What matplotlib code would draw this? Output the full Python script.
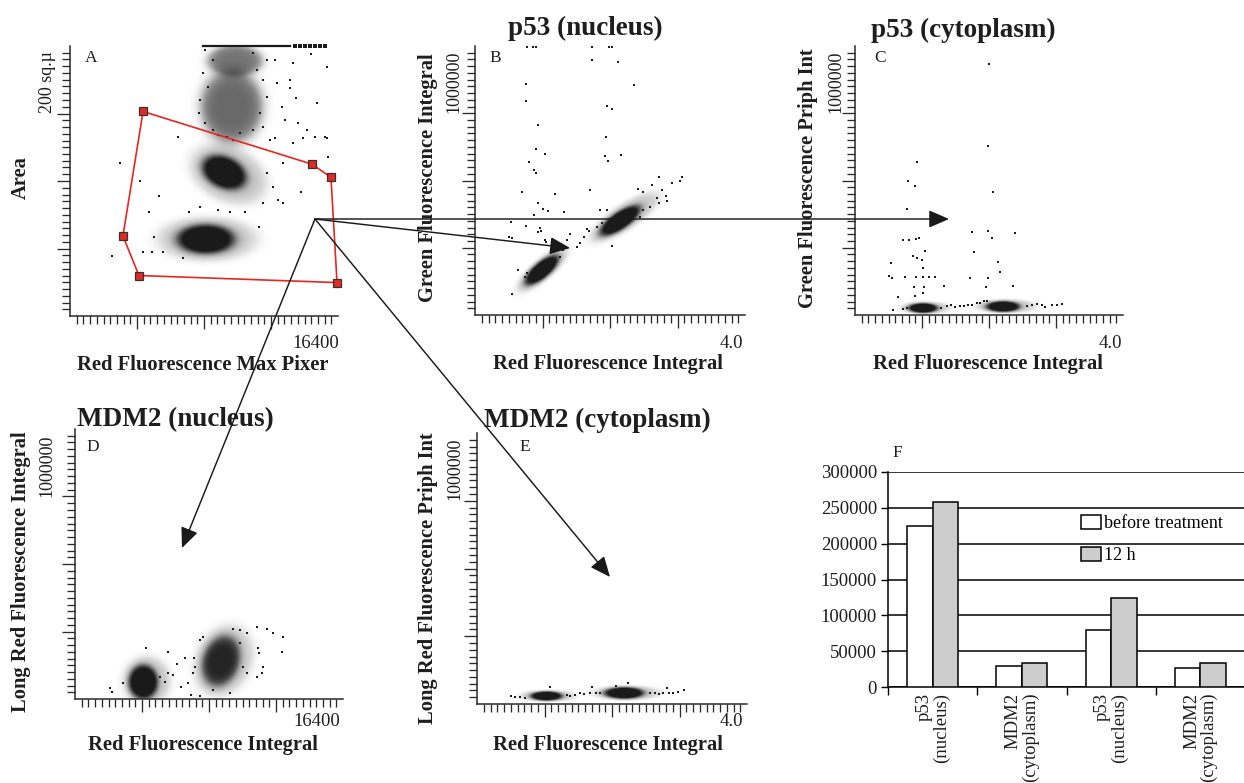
import numpy as np
import matplotlib
matplotlib.use('Agg')
import matplotlib.pyplot as plt
from matplotlib.patches import Circle, FancyArrowPatch
from matplotlib.transforms import Affine2D
from matplotlib.ticker import FixedLocator, NullFormatter

plt.rcParams['font.family'] = ['Liberation Serif', 'DejaVu Serif']

# ======================= DATA =======================
# ---- Panel A : Area vs Red Fluorescence Max Pixel ----
a_xmax = 16400
a_ymax = 266.67          # "200 sq.µ" sits at 3/4 of the axis
a_pts_x = [6630, 3060, 4280, 5450, 4850, 5140, 2550, 4450, 5020, 5670, 6930, 7300, 7960,
           9080, 9790, 10710, 11590, 11830, 12750, 13050, 14140, 15810, 15710, 14990, 13670,
           13160, 12550, 13830, 15100, 14280, 14750, 15750, 13670, 13460, 12550, 13050, 12040, 12440,
           8260, 8770, 8160, 8470, 7960, 7920, 8260, 8770, 9590, 10400, 11220, 11830, 11630,
           12040, 11830, 11430, 12040, 11220, 12650, 12960, 12240, 10000, 9080, 13460, 13970,
           14480, 15610]
a_pts_y = [177.1, 150.9, 133.7, 118.9, 102.5, 78.3, 59.6, 62.9, 62.9, 62.9, 57.0, 103.0, 108.0,
           104.7, 103.0, 103.0, 88.2, 111.3, 114.6, 111.3, 122.2, 156.8, 175.6, 177.1, 170.6,
           193.6, 175.6, 215.1, 210.7, 175.6, 258.9, 245.7, 249.7, 233.2, 252.9, 150.9, 141.0, 127.8,
           262.8, 252.9, 239.8, 226.6, 213.4, 200.3, 190.4, 183.8, 177.1, 180.5, 183.8, 187.0, 200.3,
           216.7, 233.2, 243.0, 252.9, 259.5, 229.9, 206.8, 173.9, 173.9, 178.8, 224.9, 190.4,
           183.8, 177.1]
a_top_x = [8140, 13460]                        # saturated events on the upper edge
a_top_dots = [13770, 14080, 14380, 14690, 15000, 15300, 15610]
# cell populations (cores, then sparse halos)
a_clu_x = [8310, 9440, 9900, 10100, 8400, 9700]
a_clu_y = [75.9, 141.8, 207.0, 252.0, 76.0, 140.0]
a_clu_sx = [1040, 800, 1100, 980, 1750, 1350]
a_clu_sy = [8.5, 10.0, 21.0, 9.0, 12.5, 17.0]
a_clu_rho = [0.0, -0.3, 0.0, 0.0, 0.0, -0.3]
a_clu_dens = [1.0, 1.0, 0.6, 0.55, 0.22, 0.22]
a_gate_x = [4470, 14800, 15970, 16340, 4220, 3240]
a_gate_y = [202, 150, 137, 33, 40, 79]

# ---- Panel B : p53 (nucleus) ----
bce_xmax = 4.0
bcde_ymax = 1333333      # "1000000" sits at 3/4 of the axis
b_pts_x = [0.77, 0.86, 0.91, 1.73, 1.98, 2.03, 1.73, 2.12, 0.76, 2.36, 0.76, 1.96, 2.03, 0.94,
           1.94, 0.90, 1.04, 1.93, 2.16, 1.97, 0.80, 0.87, 0.90, 2.72, 3.06, 3.04, 2.62, 2.92,
           0.70, 1.70, 1.18, 2.42, 2.49, 2.77, 2.83, 2.69, 2.84, 2.72, 0.94, 1.01, 1.08, 1.32,
           1.85, 0.88, 0.54, 0.75, 0.96, 0.98, 0.94, 0.51, 0.55, 1.04, 1.05, 1.41, 1.36, 1.66,
           1.69, 1.61, 1.56, 1.51, 2.03, 0.64, 0.74, 0.55,
           1.80, 1.88, 1.95, 2.49, 2.59, 2.44, 1.31, 1.26, 0.77]
b_pts_y = [1330000, 1330000, 1330000, 1330000, 1330000, 1330000, 1266000, 1254000, 1144000,
           1139000, 1061000, 1036000, 1023000, 944000, 883000, 825000, 800000, 789000, 795000,
           764000, 756000, 718000, 705000, 682000, 685000, 665000, 644000, 655000, 609000,
           622000, 598000, 627000, 611000, 619000, 589000, 578000, 566000, 553000, 556000,
           523000, 515000, 510000, 520000, 495000, 462000, 441000, 429000, 418000, 411000,
           388000, 380000, 371000, 363000, 401000, 371000, 424000, 414000, 388000, 355000,
           335000, 342000, 223000, 190000, 105000,
           437000, 454000, 520000, 520000, 536000, 487000, 322000, 289000, 206000]
b_clu_x = [0.99, 2.15, 1.00, 2.22]
b_clu_y = [222750, 468000, 225000, 485000]
b_clu_sx = [0.148, 0.178, 0.22, 0.30]
b_clu_sy = [43600, 44550, 65000, 72000]
b_clu_rho = [0.75, 0.75, 0.8, 0.8]
b_clu_dens = [1.0, 1.0, 0.2, 0.2]

# ---- Panel C : p53 (cytoplasm) ----
c_pts_x = [2.00, 1.98, 0.93, 0.79, 0.89, 2.06, 0.77, 1.74, 1.98, 2.04, 2.39, 0.71, 0.81, 0.91,
           0.96, 1.05, 1.77, 0.87, 0.92, 1.00, 2.14, 0.54, 1.01, 2.17, 0.51, 0.55, 0.74, 0.91,
           1.01, 1.10, 1.19, 1.72, 1.99, 1.33, 0.88, 1.03, 1.95, 2.36, 0.64, 0.90, 1.02, 0.56,
           1.37, 1.44, 1.49, 1.57, 1.63, 1.69, 1.74, 1.82, 1.87, 1.92, 1.97, 2.57, 2.64, 2.71,
           2.79, 2.84, 2.94, 3.01, 3.09, 0.72, 0.77, 1.29]
c_pts_y = [1242000, 838000, 759000, 665000, 639000, 611000, 523000, 413000, 418000, 383000,
           404000, 371000, 371000, 375000, 381000, 317000, 310000, 294000, 281000, 272000,
           261000, 256000, 234000, 215000, 195000, 185000, 190000, 190000, 190000, 190000,
           190000, 185000, 185000, 144000, 140000, 140000, 137000, 144000, 91000, 94000,
           107000, 25000,
           44550, 49500, 41250, 44550, 46200, 51150, 47850, 57750, 57750, 69300, 70950, 46200,
           51150, 54450, 51150, 41250, 49500, 49500, 52800, 29700, 36300, 36300]
c_clu_x = [1.015, 2.21, 1.05, 2.25]
c_clu_y = [34650, 42000, 36000, 44000]
c_clu_sx = [0.13, 0.15, 0.22, 0.27]
c_clu_sy = [14000, 15500, 18000, 20000]
c_clu_rho = [0.0, 0.0, 0.0, 0.0]
c_clu_dens = [1.0, 1.0, 0.18, 0.18]

# ---- Panel D : MDM2 (nucleus) ----
d_xmax = 16400
d_pts_x = [4327, 5673, 6732, 6222, 7283, 7344, 7242, 6936, 6487, 7079, 7650, 5712, 6018, 5202,
           5508, 2142, 2244, 2958, 11120, 11732, 12136, 12711, 12650, 11218, 11280, 10508,
           10098, 9688, 11524, 11120, 11426, 7650, 7854, 10098, 10302, 10508, 8466, 9486]
d_pts_y = [250300, 230600, 204000, 171300, 201000, 159500, 126900, 80500, 60700, 19750, 14800,
           129900, 118500, 110100, 85400, 55800, 36000, 77500, 357000, 344200, 324400, 304700,
           233600, 250300, 225700, 324400, 340700, 344200, 159500, 110100, 126900, 291300,
           307600, 275000, 159500, 126900, 44400, 28100]
d_clu_x = [4180, 8935, 4400, 9100]
d_clu_y = [84000, 187600, 90000, 190000]
d_clu_sx = [530, 673, 850, 1050]
d_clu_sy = [50000, 71600, 70000, 100000]
d_clu_rho = [0.0, 0.2, 0.0, 0.2]
d_clu_dens = [1.0, 0.82, 0.2, 0.22]

# ---- Panel E : MDM2 (cytoplasm) ----
e_pts_x = [0.51, 0.56, 0.64, 0.71, 1.33, 1.38, 1.45, 1.53, 1.58, 1.67, 1.71, 1.77, 1.82, 2.56,
           2.64, 2.69, 2.76, 2.81, 2.84, 2.91, 2.98, 3.07, 1.08, 2.24, 2.06]
e_pts_y = [39500, 36200, 33000, 31300, 44400, 41100, 44400, 52700, 47700, 55800, 85600, 52700,
           52700, 52700, 55800, 49400, 52700, 77400, 55800, 52700, 60700, 69100, 85600, 105300,
           88900]
e_clu_x = [1.03, 2.18, 1.05, 2.22]
e_clu_y = [39500, 54300, 40000, 55000]
e_clu_sx = [0.14, 0.175, 0.24, 0.30]
e_clu_sy = [13000, 16500, 17000, 21000]
e_clu_rho = [0.0, 0.0, 0.0, 0.0]
e_clu_dens = [1.0, 1.0, 0.18, 0.18]

# ---- Panel F : bar chart ----
f_categories = ['p53\n(nucleus)', 'MDM2\n(cytoplasm)', 'p53\n(nucleus)', 'MDM2\n(cytoplasm)']
f_before = [225000, 30000, 79000, 26500]
f_12h = [258000, 34000, 124000, 34000]
f_series = ['before treatment', '12 h']
f_yticks = [0, 50000, 100000, 150000, 200000, 250000, 300000]

# ======================= FIGURE =======================
W, H = 1244, 783
fig = plt.figure(figsize=(W / 100, H / 100), dpi=100)

def fx(px):
    return px / W

def fy(py):
    return 1 - py / H

def add_axes_px(x0, x1, ytop, ybot):
    return fig.add_axes([fx(x0), fy(ybot), (x1 - x0) / W, (ybot - ytop) / H])

INK = '#1e1e1e'
DOT = '#1a1a1a'

# smooth density shading: cumulative darkness profile over nested ellipses
LAYER_K = np.linspace(2.6, 0.8, 36)
LAYER_D = 1.0 / (1.0 + np.exp((LAYER_K - 1.7) / 0.17))


def layer_alphas(dens):
    out, prev = [], 0.0
    for d in LAYER_D * dens:
        out.append(max(0.0, 1 - (1 - d) / (1 - prev)))
        prev = d
    return out


def setup_scatter(ax, xmax, ymax):
    ax.set_xlim(0, xmax)
    ax.set_ylim(0, ymax)
    for s in ('top', 'right'):
        ax.spines[s].set_visible(False)
    for s in ('left', 'bottom'):
        ax.spines[s].set_linewidth(1.1)
        ax.spines[s].set_color('#2a2a2a')
    ax.xaxis.set_major_locator(FixedLocator([xmax * i / 4 for i in (1, 2, 3)]))
    ax.xaxis.set_minor_locator(FixedLocator([xmax * i / 40 for i in range(1, 40) if i % 10]))
    ax.yaxis.set_major_locator(FixedLocator([ymax * i / 4 for i in (1, 2, 3)]))
    ax.yaxis.set_minor_locator(FixedLocator([ymax * i / 40 for i in range(1, 41) if i % 10]))
    for axis in (ax.xaxis, ax.yaxis):
        axis.set_major_formatter(NullFormatter())
        axis.set_minor_formatter(NullFormatter())
    ax.tick_params(which='major', length=9.5, width=0.95, color='#2a2a2a', direction='out')
    ax.tick_params(which='minor', length=5.8, width=0.95, color='#2a2a2a', direction='out')
    ax.patch.set_alpha(0)


def draw_clusters(ax, cx, cy, sx, sy, rho, dens):
    for i in range(len(cx)):
        tr = Affine2D.from_values(sx[i], rho[i] * sy[i], 0, sy[i] * np.sqrt(1 - rho[i] ** 2),
                                  cx[i], cy[i]) + ax.transData
        for k, a in zip(LAYER_K, layer_alphas(dens[i])):
            ax.add_patch(Circle((0, 0), k, transform=tr, facecolor=DOT, edgecolor='none',
                                alpha=a, zorder=2))


def draw_points(ax, x, y):
    ax.scatter(x, y, s=2.4, marker='s', c=DOT, linewidths=0, zorder=3)


def ftext(px, py, s, **kw):
    kw.setdefault('color', INK)
    return fig.text(fx(px), fy(py), s, **kw)


LABEL_KW = dict(fontsize=14.8, fontweight='bold', ha='center', va='center')
TITLE_KW = dict(fontsize=19.5, fontweight='bold', ha='center', va='center')
LETTER_KW = dict(fontsize=12.5, ha='center', va='center')
TICK_KW = dict(fontsize=13.5, va='center')

# ---------------- Panel A ----------------
axA = add_axes_px(70, 338, 46, 316)
draw_clusters(axA, a_clu_x, a_clu_y, a_clu_sx, a_clu_sy, a_clu_rho, a_clu_dens)
draw_points(axA, a_pts_x, a_pts_y)
axA.plot(a_top_x, [a_ymax, a_ymax], color=DOT, lw=1.6, clip_on=False, zorder=3)
axA.scatter(a_top_dots, [a_ymax] * len(a_top_dots), s=5, marker='s', c=DOT, linewidths=0,
            clip_on=False, zorder=3)
gx = a_gate_x + a_gate_x[:1]
gy = a_gate_y + a_gate_y[:1]
axA.plot(gx, gy, color='#e6261f', lw=1.2, zorder=4, clip_on=False)
axA.plot(a_gate_x, a_gate_y, ls='none', marker='s', ms=5.2, mfc='#e02a22', mec='#333333',
         mew=0.9, zorder=5, clip_on=False)
setup_scatter(axA, a_xmax, a_ymax)

# ---------------- Panel B ----------------
axB = add_axes_px(475, 745, 46, 315)
draw_clusters(axB, b_clu_x, b_clu_y, b_clu_sx, b_clu_sy, b_clu_rho, b_clu_dens)
draw_points(axB, b_pts_x, b_pts_y)
setup_scatter(axB, bce_xmax, bcde_ymax)

# ---------------- Panel C ----------------
axC = add_axes_px(855, 1123, 46, 315)
draw_clusters(axC, c_clu_x, c_clu_y, c_clu_sx, c_clu_sy, c_clu_rho, c_clu_dens)
draw_points(axC, c_pts_x, c_pts_y)
setup_scatter(axC, bce_xmax, bcde_ymax)

# ---------------- Panel D ----------------
axD = add_axes_px(75, 343, 429, 699)
draw_clusters(axD, d_clu_x, d_clu_y, d_clu_sx, d_clu_sy, d_clu_rho, d_clu_dens)
draw_points(axD, d_pts_x, d_pts_y)
setup_scatter(axD, d_xmax, bcde_ymax)

# ---------------- Panel E ----------------
axE = add_axes_px(477, 747, 433, 704)
draw_clusters(axE, e_clu_x, e_clu_y, e_clu_sx, e_clu_sy, e_clu_rho, e_clu_dens)
draw_points(axE, e_pts_x, e_pts_y)
setup_scatter(axE, bce_xmax, bcde_ymax)

# ---------------- texts of scatter panels ----------------
ftext(585, 28, 'p53 (nucleus)', **TITLE_KW)
ftext(963, 30, 'p53 (cytoplasm)', **TITLE_KW)
ftext(175, 420, 'MDM2 (nucleus)', **TITLE_KW)
ftext(597, 420, 'MDM2 (cytoplasm)', **TITLE_KW)

for (px, py, s) in [(91, 58, 'A'), (495, 58, 'B'), (880, 58, 'C'), (93, 447, 'D'),
                    (525, 447, 'E'), (897, 453, 'F')]:
    ftext(px, py, s, **LETTER_KW)

ftext(21, 178, 'Area', rotation=90, **LABEL_KW)
ftext(428, 178, 'Green Fluorescence Integral', rotation=90, **LABEL_KW)
ftext(808, 178, 'Green Fluorescence Priph Int', rotation=90, **LABEL_KW)
ftext(21, 572, 'Long Red Fluorescence Integral', rotation=90, **LABEL_KW)
ftext(428, 578, 'Long Red Fluorescence Priph Int', rotation=90, **LABEL_KW)

ftext(203, 365, 'Red Fluorescence Max Pixer', **LABEL_KW)
ftext(608, 364, 'Red Fluorescence Integral', **LABEL_KW)
ftext(988, 364, 'Red Fluorescence Integral', **LABEL_KW)
ftext(203, 745, 'Red Fluorescence Integral', **LABEL_KW)
ftext(608, 745, 'Red Fluorescence Integral', **LABEL_KW)

ROT_KW = dict(fontsize=13, rotation=90, rotation_mode='anchor', ha='left', va='center')
ftext(47, 113, '200 sq.µ', **ROT_KW)
ftext(454, 113, '1000000', **ROT_KW)
ftext(836, 113, '1000000', **ROT_KW)
ftext(47, 497, '1000000', **ROT_KW)
ftext(455, 500, '1000000', **ROT_KW)

ftext(339, 343, '16400', ha='right', **TICK_KW)
ftext(743, 343, '4.0', ha='right', **TICK_KW)
ftext(1122, 343, '4.0', ha='right', **TICK_KW)
ftext(340, 722, '16400', ha='right', **TICK_KW)
ftext(743, 722, '4.0', ha='right', **TICK_KW)

# ---------------- arrows ----------------
origin = (315, 219)
for tip in [(949, 219), (570, 248), (182, 548), (610, 577)]:
    arr = FancyArrowPatch((fx(origin[0]), fy(origin[1])), (fx(tip[0]), fy(tip[1])),
                          transform=fig.transFigure,
                          arrowstyle='-|>,head_length=0.62,head_width=0.27',
                          mutation_scale=20, lw=1.05, color='#1a1a1a',
                          shrinkA=0, shrinkB=0, zorder=10)
    fig.add_artist(arr)

# ---------------- Panel F ----------------
axF = add_axes_px(888, 1245, 472, 687)
xpos = np.arange(len(f_categories))
bw = 0.285
axF.bar(xpos - bw / 2, f_before, bw, color='white', edgecolor='black', lw=1.1, zorder=3,
        label=f_series[0])
axF.bar(xpos + bw / 2, f_12h, bw, color='#cdcdcd', edgecolor='black', lw=1.1, zorder=3,
        label=f_series[1])
axF.set_xlim(-0.5, len(f_categories) - 0.5)
axF.set_ylim(0, 300000)
axF.set_yticks(f_yticks)
axF.set_yticklabels([str(v) for v in f_yticks])
axF.yaxis.grid(True, color='black', lw=1.1)
axF.set_axisbelow(True)
for s in ('top', 'right'):
    axF.spines[s].set_visible(False)
axF.spines['left'].set_linewidth(1.1)
axF.spines['bottom'].set_linewidth(1.1)
axF.set_xticks(np.arange(-0.5, len(f_categories), 1.0))
axF.set_xticklabels([])
axF.set_xticks(xpos, minor=True)
axF.set_xticklabels(f_categories, minor=True, rotation=90, ha='center', va='top',
                    multialignment='right', linespacing=1.0)
axF.tick_params(axis='x', which='major', length=6, width=1.0, direction='out')
axF.tick_params(axis='x', which='minor', length=0, pad=4, labelsize=13.5, labelcolor=INK)
axF.tick_params(axis='y', length=5, width=1.0, direction='out', pad=3, labelsize=13.5,
                labelcolor=INK)
axF.legend(loc='upper left', bbox_to_anchor=(fx(1081), fy(515)), bbox_transform=fig.transFigure,
           frameon=False, fontsize=13, handlelength=1.1, handleheight=0.85,
           handletextpad=0.15, labelspacing=0.8, borderpad=0, borderaxespad=0)

fig.savefig('out.png', dpi=100)
